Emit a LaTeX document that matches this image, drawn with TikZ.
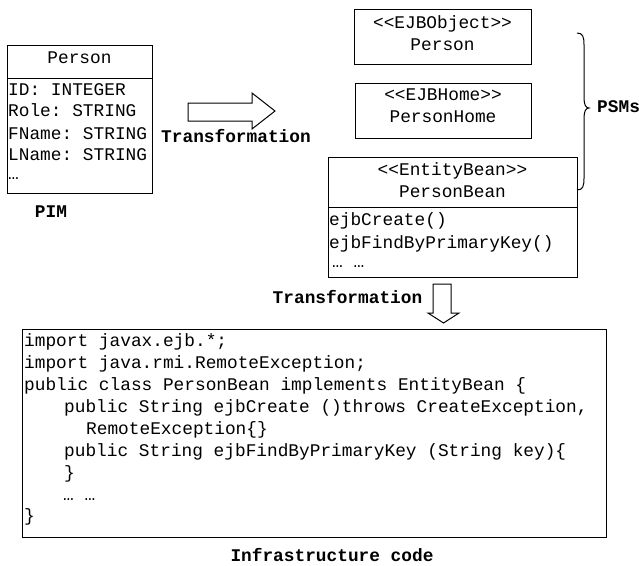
\documentclass[tikz,border=0pt]{standalone}
\usepackage{fontspec}
\setmonofont{Liberation Mono}
\begin{document}
\begin{tikzpicture}[x=1pt,y=-1pt,
  box/.style={draw,line width=1pt,inner sep=0pt},
  txt/.style={font=\ttfamily\fontsize{17.8}{22}\selectfont,inner sep=0pt},
  lbl/.style={font=\ttfamily\bfseries\fontsize{17.8}{22}\selectfont,inner sep=0pt},
  blockarrow/.style={draw,line width=1pt,line join=miter}]
\useasboundingbox (0,0) rectangle (639,565);

% PIM class
\node[box,anchor=north west,minimum width=145pt,minimum height=148pt] (pim) at (7,45) {};
\draw[line width=1pt] (7,78) -- (152,78);
\node[txt,anchor=base] (pimname) at (79.5,63.5) {Person};
\node[txt,anchor=base west] (a1) at (8,95) {ID: INTEGER};
\node[txt,anchor=base west] (a2) at (8,116.5) {Role: STRING};
\node[txt,anchor=base west] (a3) at (8,139) {FName: STRING};
\node[txt,anchor=base west] (a4) at (8,160.5) {LName: STRING};
\node[txt,anchor=base west] (a5) at (8,179) {…};
\node[lbl,anchor=base] (pimlbl) at (51,217) {PIM};

% first transformation
\draw[blockarrow] (188,103) -- (252,103) -- (252,93) -- (275,111) -- (252,129) -- (252,121) -- (188,121) -- cycle;
\node[lbl,anchor=base] (t1) at (236,142) {Transformation};

% PSM classes
\node[box,anchor=north west,minimum width=177pt,minimum height=55pt] (ejbobj) at (354,9) {};
\node[txt,anchor=base] (o1) at (442.5,28.5) {<<EJBObject>>};
\node[txt,anchor=base] (o2) at (442.5,50.5) {Person};

\node[box,anchor=north west,minimum width=176pt,minimum height=55pt] (ejbhome) at (355,83) {};
\node[txt,anchor=base] (h1) at (443,100.5) {<<EJBHome>>};
\node[txt,anchor=base] (h2) at (443,122.5) {PersonHome};

\node[box,anchor=north west,minimum width=249pt,minimum height=120pt] (bean) at (328,157) {};
\draw[line width=1pt] (328,207) -- (577,207);
\node[txt,anchor=base] (b1) at (452.5,175.5) {<<EntityBean>>};
\node[txt,anchor=base] (b2) at (452.5,197.5) {PersonBean};
\node[txt,anchor=base west] (m1) at (329,225.5) {ejbCreate()};
\node[txt,anchor=base west] (m2) at (329,248) {ejbFindByPrimaryKey()};
\node[txt,anchor=base west] (m3) at (332,267) {… …};

% brace grouping the PSMs
\draw[line width=1pt] (577,33) .. controls (583,33) and (584,37) .. (584,45)
  -- (584,98) .. controls (584,105) and (586,108) .. (589,108)
  .. controls (586,108) and (584,111) .. (584,118)
  -- (584,178) .. controls (584,186) and (583,190) .. (577,190);
\node[lbl,anchor=base west] (psm) at (597,112) {PSMs};

% second transformation
\draw[blockarrow] (433,284) -- (451,284) -- (451,313) -- (459,313) -- (443.5,323) -- (428,313) -- (433,313) -- cycle;
\node[lbl,anchor=base] (t2) at (347.5,303) {Transformation};

% infrastructure code
\node[box,anchor=north west,minimum width=584pt,minimum height=208pt] (code) at (22,329) {};
\node[txt,anchor=base west] (c1) at (24,346.5) {import javax.ejb.*;};
\node[txt,anchor=base west] (c2) at (24,368.5) {import java.rmi.RemoteException;};
\node[txt,anchor=base west] (c3) at (24,390.5) {public class PersonBean implements EntityBean \{};
\node[txt,anchor=base west] (c4) at (64,412.5) {public String ejbCreate ()throws CreateException,};
\node[txt,anchor=base west] (c5) at (86,434.5) {RemoteException\{\}};
\node[txt,anchor=base west] (c6) at (64,456.5) {public String ejbFindByPrimaryKey (String key)\{};
\node[txt,anchor=base west] (c7) at (64,478.5) {\}};
\node[txt,anchor=base west] (c8) at (63,500.5) {… …};
\node[txt,anchor=base west] (c9) at (24,521.5) {\}};
\node[lbl,anchor=base] (infra) at (332,561) {Infrastructure code};
\end{tikzpicture}
\end{document}
